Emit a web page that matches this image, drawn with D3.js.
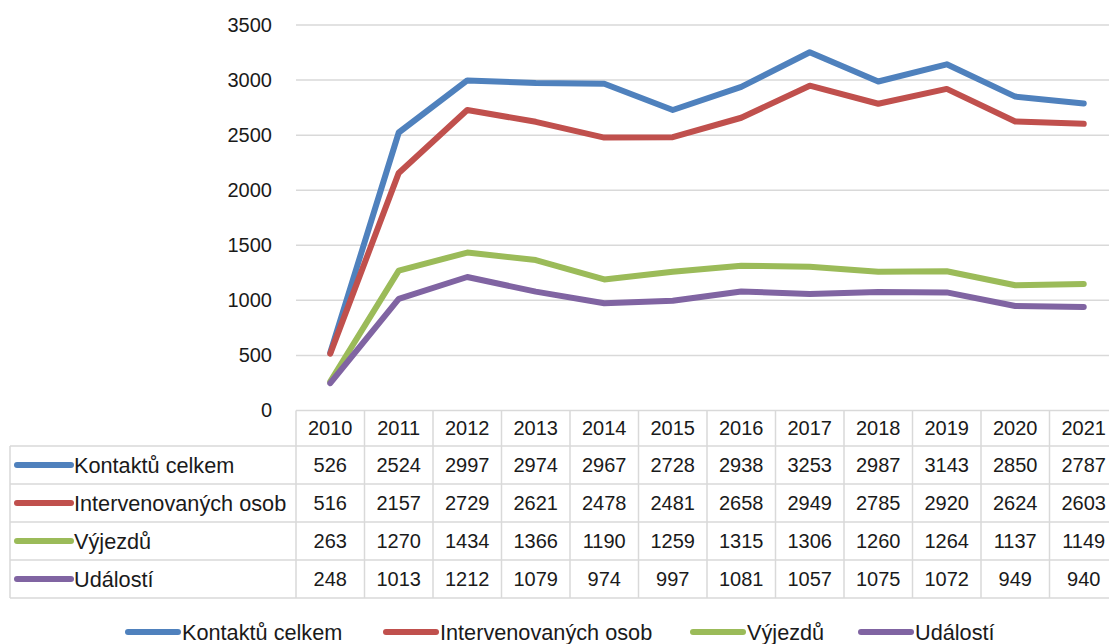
<!DOCTYPE html>
<html>
<head>
<meta charset="utf-8">
<script src="https://cdn.jsdelivr.net/npm/d3@7"></script>
<style>
  body { margin: 0; background: #fff; }
  text { font-family: "Liberation Sans", Arial, sans-serif; fill: #1a1a1a; }
</style>
</head>
<body>
<div id="chart"></div>
<script>
// Data
var years = ["2010", "2011", "2012", "2013", "2014", "2015", "2016", "2017", "2018", "2019", "2020", "2021"];
var seriesNames = ["Kontaktů celkem", "Intervenovaných osob", "Výjezdů", "Událostí"];
var kontakty = [526, 2524, 2997, 2974, 2967, 2728, 2938, 3253, 2987, 3143, 2850, 2787];
var intervenovane = [516, 2157, 2729, 2621, 2478, 2481, 2658, 2949, 2785, 2920, 2624, 2603];
var vyjezdy = [263, 1270, 1434, 1366, 1190, 1259, 1315, 1306, 1260, 1264, 1137, 1149];
var udalosti = [248, 1013, 1212, 1079, 974, 997, 1081, 1057, 1075, 1072, 949, 940];
var yTicks = [0, 500, 1000, 1500, 2000, 2500, 3000, 3500];

var colors = ["#4f81bd", "#c0504d", "#9bbb59", "#8064a2"];
var series = [kontakty, intervenovane, vyjezdy, udalosti];

var svgWidth = 1109;
var svgHeight = 644;

var svg = d3.select("#chart")
    .append("svg")
    .attr("width", svgWidth)
    .attr("height", svgHeight);

// scales
var x = d3.scaleBand()
    .domain(years)
    .range([296, 1118])
    .padding(0);

var y = d3.scaleLinear()
    .domain([0, 3500])
    .range([410.5, 25]);

var gridColor = "#d9d9d9";

// gridlines
svg.append("g").selectAll("line")
    .data(yTicks.filter(d => d > 0))
    .enter()
    .append("line")
    .attr("x1", 296)
    .attr("x2", 1118)
    .attr("y1", d => y(d))
    .attr("y2", d => y(d))
    .attr("stroke", gridColor)
    .attr("stroke-width", 1.5);

// y axis labels
var leftAxis = d3.axisLeft(y).tickValues(yTicks).tickFormat(d3.format("d")).tickSize(0).tickPadding(0);
var yAxis = svg.append("g")
    .attr("transform", "translate(272,0)")
    .call(leftAxis);
yAxis.select(".domain").remove();
yAxis.selectAll("text")
    .attr("font-size", "20px")
    .attr("font-family", "Liberation Sans, Arial, sans-serif")
    .attr("fill", "#1a1a1a");

// lines
var line = d3.line()
    .x((d, i) => x(years[i]) + x.bandwidth() / 2)
    .y(d => y(d));

svg.append("g").selectAll("path")
    .data(series)
    .enter()
    .append("path")
    .attr("d", d => line(d))
    .attr("fill", "none")
    .attr("stroke", (d, i) => colors[i])
    .attr("stroke-width", 6)
    .attr("stroke-linecap", "round")
    .attr("stroke-linejoin", "round");

// data table
var rowTop = 446;
var rowH = 38;
var tableBottom = rowTop + rowH * series.length;
var table = svg.append("g");

// header row top and row lines
table.append("line")
    .attr("x1", 296).attr("x2", 1118)
    .attr("y1", 410.5).attr("y2", 410.5)
    .attr("stroke", gridColor)
    .attr("stroke-width", 1.5);
table.selectAll(".hline")
    .data(d3.range(series.length + 1))
    .enter()
    .append("line")
    .attr("x1", 10).attr("x2", 1118)
    .attr("y1", d => rowTop + d * rowH)
    .attr("y2", d => rowTop + d * rowH)
    .attr("stroke", gridColor)
    .attr("stroke-width", 1.5);
table.append("line")
    .attr("x1", 10).attr("x2", 10)
    .attr("y1", rowTop).attr("y2", tableBottom)
    .attr("stroke", gridColor)
    .attr("stroke-width", 1.5);
table.selectAll(".vline")
    .data(years)
    .enter()
    .append("line")
    .attr("x1", d => x(d)).attr("x2", d => x(d))
    .attr("y1", 410.5).attr("y2", tableBottom)
    .attr("stroke", gridColor)
    .attr("stroke-width", 1.5);

// year header
table.selectAll(".year")
    .data(years)
    .enter()
    .append("text")
    .attr("x", d => x(d) + x.bandwidth() / 2)
    .attr("y", 428)
    .attr("text-anchor", "middle")
    .attr("dominant-baseline", "central")
    .attr("font-size", "20px")
    .text(d => d);

// series rows
series.forEach(function (vals, si) {
    var cy = rowTop + si * rowH + rowH / 2;
    table.append("line")
        .attr("x1", 17).attr("x2", 71)
        .attr("y1", cy).attr("y2", cy)
        .attr("stroke", colors[si])
        .attr("stroke-width", 6)
        .attr("stroke-linecap", "round");
    table.append("text")
        .attr("x", 74)
        .attr("y", cy)
        .attr("dominant-baseline", "central")
        .attr("font-size", "21.7px")
        .text(seriesNames[si]);
    table.selectAll(".v" + si)
        .data(vals)
        .enter()
        .append("text")
        .attr("x", (d, i) => x(years[i]) + x.bandwidth() / 2)
        .attr("y", cy)
        .attr("text-anchor", "middle")
        .attr("dominant-baseline", "central")
        .attr("font-size", "20px")
        .text(d => d);
});

// legend at bottom
var legendX = [125, 383, 690, 858];
var legend = svg.append("g");
seriesNames.forEach(function (name, i) {
    legend.append("line")
        .attr("x1", legendX[i] + 3).attr("x2", legendX[i] + 53)
        .attr("y1", 632).attr("y2", 632)
        .attr("stroke", colors[i])
        .attr("stroke-width", 6)
        .attr("stroke-linecap", "round");
    legend.append("text")
        .attr("x", legendX[i] + 57)
        .attr("y", 632)
        .attr("dominant-baseline", "central")
        .attr("font-size", "21.7px")
        .text(name);
});
</script>
</body>
</html>
